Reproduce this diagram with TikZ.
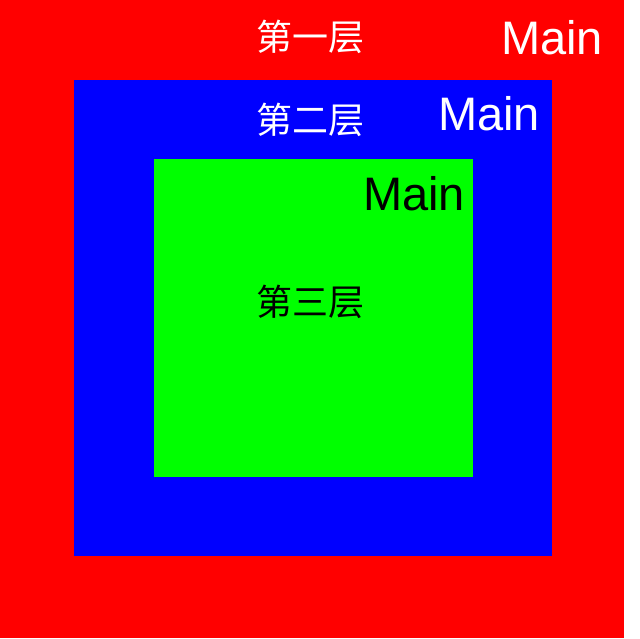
\documentclass[tikz,border=0pt]{standalone}
\usepackage{fontspec}
\setmainfont{Liberation Sans}
\newfontfamily\cjk{Noto Sans CJK SC}
\definecolor{layerred}{RGB}{255,0,0}
\definecolor{layerblue}{RGB}{0,0,255}
\definecolor{layergreen}{RGB}{0,255,0}
\tikzset{
  layerbox/.style={inner sep=0pt, outer sep=0pt, anchor=north west},
  layertag/.style={inner sep=0pt, font=\cjk\fontsize{36}{36}\selectfont},
  maintag/.style={inner sep=0pt, font=\fontsize{47}{47}\selectfont}
}
\begin{document}
\begin{tikzpicture}[x=1pt, y=-1pt]
    % Scale: 1 pixel of the reference = 1pt, y grows downwards
    \useasboundingbox (0,0) rectangle (640,638);

    % Nested layers, outermost first
    \node[layerbox, fill=layerred, minimum width=624pt, minimum height=638pt]
      (first) at (0,0) {};
    \node[layerbox, fill=layerblue, minimum width=478pt, minimum height=476pt]
      (second) at (74,80) {};
    \node[layerbox, fill=layergreen, minimum width=319pt, minimum height=318pt]
      (third) at (154,159) {};

    % Layer names
    \node[layertag, white] (firstname)  at (310,37)  {第一层};
    \node[layertag, white] (secondname) at (310,120) {第二层};
    \node[layertag, black] (thirdname)  at (310,302) {第三层};

    % Main labels, top right of each layer
    \node[maintag, white] (firstmain)  at (552,38)  {Main};
    \node[maintag, white] (secondmain) at (489,114) {Main};
    \node[maintag, black] (thirdmain)  at (414,194) {Main};

\end{tikzpicture}
\end{document}
